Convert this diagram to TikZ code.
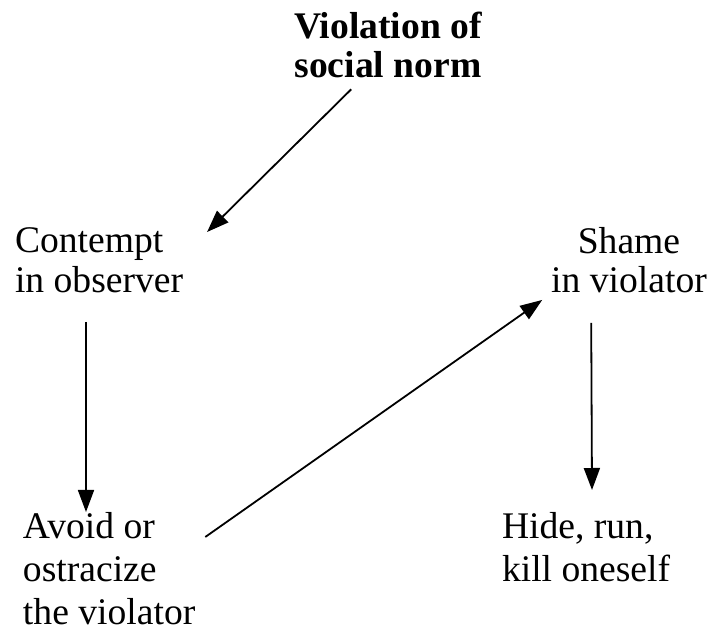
\documentclass[tikz,border=0pt]{standalone}
\usepackage{fontspec}
\setmainfont{Liberation Serif}
\usetikzlibrary{arrows.meta}
\tikzset{
  lbl/.style={inner sep=0pt, outer sep=0pt, font=\fontsize{18.8}{19.75}\selectfont},
  lbltall/.style={inner sep=0pt, outer sep=0pt, font=\fontsize{18.8}{21.5}\selectfont},
  arr/.style={line width=0.9pt, -{Triangle[length=11pt,width=8pt]}}
}
\begin{document}
\begin{tikzpicture}[x=0.5pt,y=-0.5pt]
\useasboundingbox (0,0) rectangle (712,635);
% labels
\node[lbl, anchor=north, align=center, font=\fontsize{18.8}{19.75}\selectfont\bfseries] (norm) at (388,12) {Violation of\\social norm};
\node[lbl, anchor=north west, align=left] (contempt) at (15,228) {Contempt\\in observer};
\node[lbl, anchor=north, align=center] (shame) at (629,227) {Shame\\in violator};
\node[lbltall, anchor=north west, align=left] (avoid) at (23,512) {Avoid or\\ostracize\\the violator};
\node[lbltall, anchor=north west, align=left] (hide) at (502,512) {Hide, run,\\kill oneself};
% connectors
\draw[arr] ([shift={(57,11)}]norm.south west) -- ([shift={(24,4)}]contempt.north east);
\draw[arr] ([shift={(71,29)}]contempt.south west) -- ([shift={(63,0)}]avoid.north west);
\draw[arr] ([shift={(10,25)}]avoid.north east) -- ([shift={(-9,7)}]shame.south west);
\draw[arr] ([shift={(40,30)}]shame.south west) -- ([shift={(90,-22)}]hide.north west);
\end{tikzpicture}
\end{document}
